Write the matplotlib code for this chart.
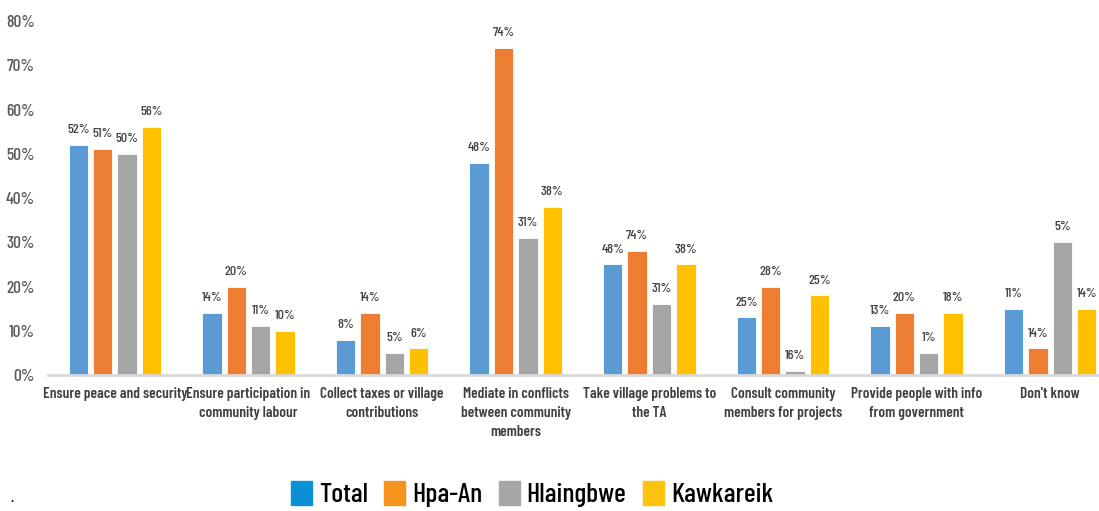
import matplotlib
matplotlib.use("Agg")
import matplotlib.pyplot as plt
from matplotlib import font_manager
import numpy as np

# Pick a condensed sans family for all chart text
_installed = {f.name for f in font_manager.fontManager.ttflist}
FONT = next((n for n in ["Barlow Condensed", "Roboto Condensed", "Archivo Narrow",
                         "Liberation Sans Narrow", "DejaVu Sans"] if n in _installed), "DejaVu Sans")

categories = [
    "Ensure peace and security",
    "Ensure participation in\ncommunity labour",
    "Collect taxes or village\ncontributions",
    "Mediate in conflicts\nbetween community\nmembers",
    "Take village problems to\nthe TA",
    "Consult community\nmembers for projects",
    "Provide people with info\nfrom government",
    "Don't know",
]
series_names = ["Total", "Hpa-An", "Hlaingbwe", "Kawkareik"]

total = [52, 14, 8, 48, 25, 13, 11, 15]
hpa_an = [51, 20, 14, 74, 28, 20, 14, 6]
hlaingbwe = [50, 11, 5, 31, 16, 1, 5, 30]
kawkareik = [56, 10, 6, 38, 25, 18, 14, 15]

total_labels = ["52%", "14%", "8%", "48%", "48%", "25%", "13%", "11%"]
hpa_an_labels = ["51%", "20%", "14%", "74%", "74%", "28%", "20%", "14%"]
hlaingbwe_labels = ["50%", "11%", "5%", "31%", "31%", "16%", "1%", "5%"]
kawkareik_labels = ["56%", "10%", "6%", "38%", "38%", "25%", "18%", "14%"]

y_ticks = [0, 10, 20, 30, 40, 50, 60, 70, 80]

bar_colors = ["#5B9BD5", "#ED7D31", "#A5A5A5", "#FFC000"]
legend_colors = ["#0B8FD6", "#F7941D", "#A6A6A6", "#FFC20E"]

fig = plt.figure(figsize=(10.99, 5.11), dpi=100)
ax = fig.add_axes([48 / 1099, 1 - 375 / 511, (1117 - 48) / 1099, (375 - 21) / 511])

x = np.arange(len(categories))
step = 0.1827
width = 0.145
all_vals = [total, hpa_an, hlaingbwe, kawkareik]
all_labels = [total_labels, hpa_an_labels, hlaingbwe_labels, kawkareik_labels]
for i, (vals, labs, col) in enumerate(zip(all_vals, all_labels, bar_colors)):
    xs = x + (i - 1.5) * step
    ax.bar(xs, vals, width=width, color=col, edgecolor="white", linewidth=0.6, zorder=2)
    for xi, v, t in zip(xs, vals, labs):
        ax.text(xi, v + 2.0, t, ha="center", va="bottom", fontsize=10,
                color="#404040", family=FONT, fontweight="medium")

ax.set_xlim(-0.5, len(categories) - 0.5)
ax.set_ylim(0, 80)
ax.set_yticks(y_ticks)
ax.set_yticklabels([f"{t}%" for t in y_ticks], family=FONT, fontsize=12.5, color="#595959",
                   fontweight="medium")
ax.tick_params(axis="y", length=0, pad=9.5)
ax.set_xticks(x)
ax.set_xticklabels(categories, family=FONT, fontsize=11, fontweight="semibold",
                   color="#404040", linespacing=1.45)
ax.tick_params(axis="x", length=0, pad=8.5)
for s in ["top", "right", "left"]:
    ax.spines[s].set_visible(False)
ax.spines["bottom"].set_color("#D9D9D9")
ax.spines["bottom"].set_linewidth(2)

handles = [plt.Rectangle((0, 0), 1, 1, color=c) for c in legend_colors]
fig.legend(handles, series_names, loc="center", bbox_to_anchor=(532 / 1099, 1 - 494 / 511),
           ncol=4, frameon=False, handlelength=0.75, handleheight=0.95, handletextpad=0.25,
           columnspacing=0.6, borderpad=0,
           prop={"family": FONT, "size": 20, "weight": "medium"})
fig.text(10 / 1099, 1 - 497 / 511, ".", fontsize=12, color="black", ha="left", va="center",
         family=FONT)

fig.savefig("out.png", dpi=100)
